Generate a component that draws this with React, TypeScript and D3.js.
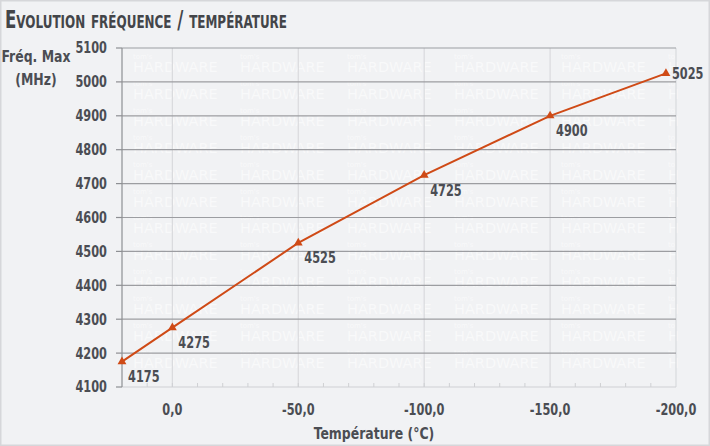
import React from "react";
import * as d3 from "d3";

const temperatures = [20, 0, -50, -100, -150, -196];
const frequencies = [4175, 4275, 4525, 4725, 4900, 5025];
const yTicks = [4100, 4200, 4300, 4400, 4500, 4600, 4700, 4800, 4900, 5000, 5100];
const xTicks = [0, -50, -100, -150, -200];
const xMinorTicks = [10, 0, -10, -20, -30, -40, -50, -60, -70, -80, -90, -100, -110, -120, -130, -140, -150, -160, -170, -180, -190];
const title = "Evolution fréquence / température";
const yTitle = ["Fréq. Max", "(MHz)"];
const xTitle = "Température (°C)";

const W = 710;
const H = 446;
const L = 122, R = 676, T = 48, B = 387;
const FONT = "'DejaVu Sans Condensed', 'DejaVu Sans', sans-serif";
const TEXT = "#4b4d53";
const LINE = "#cf4a16";
const SX = 0.84;

type TProps = {
  x: number;
  y: number;
  size: number;
  anchor?: "start" | "middle" | "end";
  children: React.ReactNode;
  dy?: string;
};

function CT({ x, y, size, anchor = "start", children, dy }: TProps) {
  return (
    <g transform={`translate(${x},${y}) scale(${SX},1)`}>
      <text x={0} y={0} dy={dy} fontSize={size} fontWeight="bold" fill={TEXT} textAnchor={anchor}>
        {children}
      </text>
    </g>
  );
}

export default function App() {
  const x = d3.scaleLinear().domain([20, -200]).range([L, R]);
  const y = d3.scaleLinear().domain([4100, 5100]).range([B, T]);
  const pts = temperatures.map((t, i) => [x(t), y(frequencies[i])] as [number, number]);
  const path = d3.line()(pts) || "";
  const tri = d3.symbol().type(d3.symbolTriangle).size(34)() || "";

  const wmRows = d3.range(12).map((k) => 72 + k * 26.9);
  const wmCols = d3.range(6).map((k) => 133 + k * 107);

  return (
    <svg width={W} height={H} style={{ position: "absolute", left: 0, top: 0, display: "block" }} fontFamily={FONT}>
      <rect x={0.5} y={0.5} width={W - 1} height={H - 1} fill="#f1f2f4" stroke="#d6d7da" strokeWidth={2} />
      <text
        x={5}
        y={28}
        fontSize={25}
        fontWeight="bold"
        fill="#434549"
        style={{ fontVariant: "small-caps" }}
        textLength={282}
        lengthAdjust="spacingAndGlyphs"
      >
        {title}
      </text>

      {/* watermark */}
      <g fill="#ffffff" opacity={0.55} fontFamily="'DejaVu Sans', sans-serif">
        {wmRows.map((ry, i) =>
          wmCols.map((cx, j) => {
            const last = j === wmCols.length - 1;
            return (
              <g key={`${i}-${j}`}>
                <text x={cx} y={ry - 13} fontSize={7}>{last ? "to" : "tom's"}</text>
                <text x={cx} y={ry} fontSize={14.5}>{last ? "H" : "HARDWARE"}</text>
              </g>
            );
          })
        )}
      </g>

      {/* vertical gridlines */}
      {xTicks.filter((t) => t !== -200).map((t) => (
        <line key={`vg${t}`} x1={x(t)} x2={x(t)} y1={T} y2={B} stroke="#d9dadd" strokeWidth={1.2} />
      ))}
      <line x1={R} x2={R} y1={T} y2={B} stroke="#d9dadd" strokeWidth={1.2} />
      {/* horizontal gridlines */}
      {yTicks.filter((t) => t !== 4100).map((t) => (
        <line key={`hg${t}`} x1={L} x2={R} y1={y(t)} y2={y(t)} stroke="#9c9da1" strokeWidth={1.2} />
      ))}
      {/* bottom axis */}
      <line x1={L} x2={R} y1={B} y2={B} stroke="#cfd0d3" strokeWidth={1.2} />
      {xMinorTicks.map((t) => (
        <line key={`mt${t}`} x1={x(t)} x2={x(t)} y1={B} y2={B - 4} stroke="#cfd0d3" strokeWidth={1} />
      ))}
      {/* left axis */}
      <line x1={L} x2={L} y1={T} y2={B} stroke="#8e8f93" strokeWidth={1.2} />
      {yTicks.map((t) => (
        <g key={`yt${t}`}>
          <line x1={L - 6} x2={L} y1={y(t)} y2={y(t)} stroke="#8e8f93" strokeWidth={1.2} />
          <CT x={107} y={y(t)} dy="0.36em" size={15} anchor="end">{t}</CT>
        </g>
      ))}
      {xTicks.map((t) => (
        <CT key={`xt${t}`} x={x(t)} y={415} size={15} anchor="middle">
          {d3.format(".1f")(t).replace(".", ",").replace("−", "-")}
        </CT>
      ))}
      <CT x={36} y={62} size={16.5} anchor="middle">{yTitle[0]}</CT>
      <CT x={36} y={85} size={16.5} anchor="middle">{yTitle[1]}</CT>
      <CT x={374} y={439} size={16.5} anchor="middle">{xTitle}</CT>

      {/* series */}
      <path d={path} fill="none" stroke={LINE} strokeWidth={2} />
      {pts.map(([px, py], i) => (
        <path key={`m${i}`} d={tri} transform={`translate(${px},${py})`} fill={LINE} />
      ))}
      {pts.map(([px, py], i) => {
        const last = i === pts.length - 1;
        return (
          <CT key={`l${i}`} x={px + 6} y={last ? py : py + 15} dy="0.36em" size={15}>
            {frequencies[i]}
          </CT>
        );
      })}
    </svg>
  );
}
